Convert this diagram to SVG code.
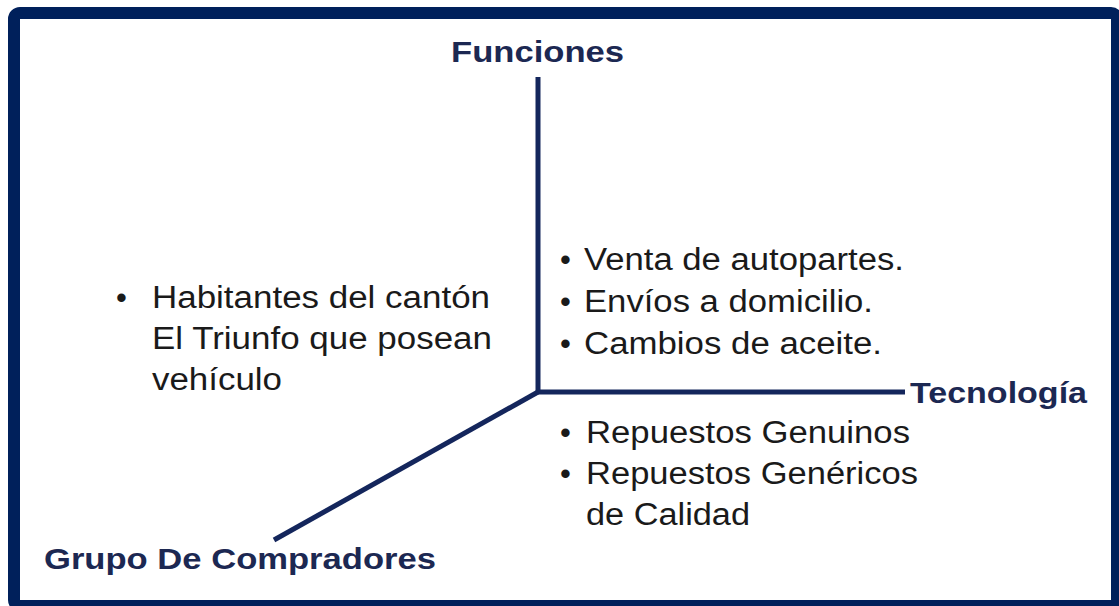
<svg xmlns="http://www.w3.org/2000/svg" width="1119" height="606" viewBox="0 0 1119 606">
<style>
.axis{stroke:#14265c;stroke-width:5;fill:none;stroke-linecap:butt}
.title{font-family:"Liberation Sans",Arial,sans-serif;font-weight:bold;font-size:30px;fill:#1c2852}
.body{font-family:"Liberation Sans",Arial,sans-serif;font-size:31px;fill:#1a1a1a}
</style>
<rect x="0" y="0" width="1119" height="606" fill="#ffffff"/>
<rect id="frame" x="14" y="13" width="1103" height="593" rx="6" fill="none" stroke="#00205b" stroke-width="12"/>
<g id="connectors">
<line class="axis" x1="538" y1="77" x2="538" y2="392"/>
<line class="axis" x1="536" y1="392" x2="905" y2="392"/>
<line class="axis" x1="538" y1="392" x2="274" y2="540"/>
</g>
<g id="funciones">
<text class="title" x="451" y="62" textLength="173" lengthAdjust="spacingAndGlyphs">Funciones</text>
</g>
<g id="tecnologia">
<text class="title" x="910" y="403" textLength="177" lengthAdjust="spacingAndGlyphs">Tecnología</text>
</g>
<g id="compradores">
<text class="title" x="44" y="569" textLength="392" lengthAdjust="spacingAndGlyphs">Grupo De Compradores</text>
</g>
<g id="habitantes">
<text class="body" x="116" y="308">•</text>
<text class="body" x="152" y="308" textLength="338" lengthAdjust="spacingAndGlyphs">Habitantes del cantón</text>
<text class="body" x="152" y="349" textLength="340" lengthAdjust="spacingAndGlyphs">El Triunfo que posean</text>
<text class="body" x="152" y="390" textLength="130" lengthAdjust="spacingAndGlyphs">vehículo</text>
</g>
<g id="funciones-items">
<text class="body" x="560" y="270">•</text>
<text class="body" x="584" y="270" textLength="320" lengthAdjust="spacingAndGlyphs">Venta de autopartes.</text>
<text class="body" x="560" y="312">•</text>
<text class="body" x="584" y="312" textLength="289" lengthAdjust="spacingAndGlyphs">Envíos a domicilio.</text>
<text class="body" x="560" y="354">•</text>
<text class="body" x="584" y="354" textLength="298" lengthAdjust="spacingAndGlyphs">Cambios de aceite.</text>
</g>
<g id="tecnologia-items">
<text class="body" x="560" y="443">•</text>
<text class="body" x="586" y="443" textLength="324" lengthAdjust="spacingAndGlyphs">Repuestos Genuinos</text>
<text class="body" x="560" y="484">•</text>
<text class="body" x="586" y="484" textLength="332" lengthAdjust="spacingAndGlyphs">Repuestos Genéricos</text>
<text class="body" x="586" y="525" textLength="164" lengthAdjust="spacingAndGlyphs">de Calidad</text>
</g>
</svg>
